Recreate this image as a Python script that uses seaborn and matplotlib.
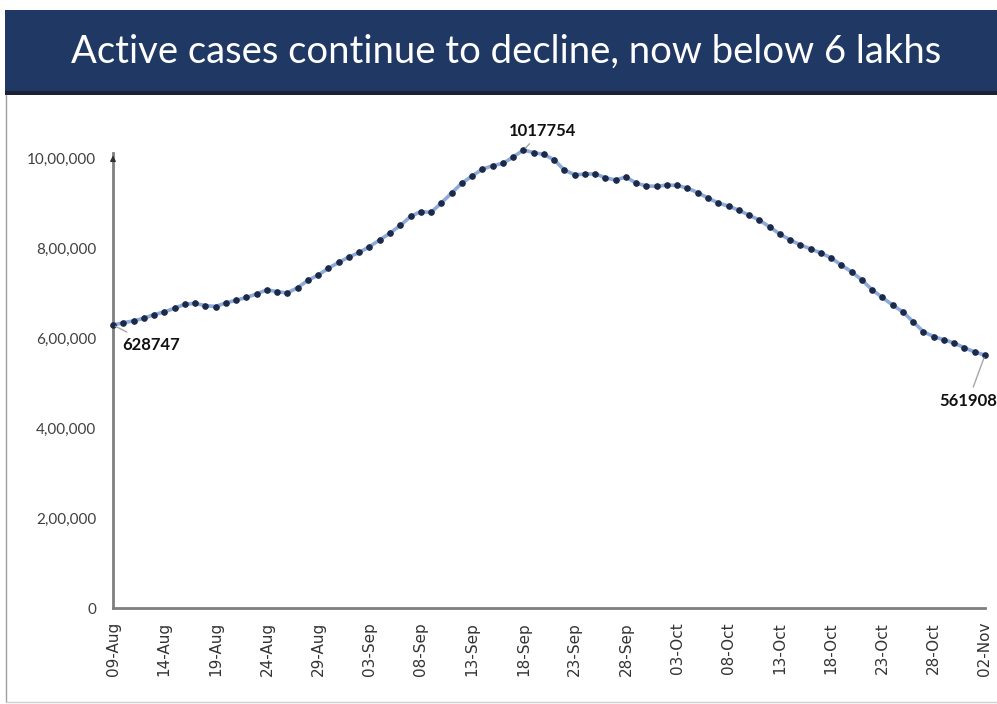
import pandas as pd
import matplotlib
matplotlib.use("Agg")
import matplotlib.pyplot as plt
import matplotlib.dates as mdates
from matplotlib.patches import Rectangle
from matplotlib.lines import Line2D
import seaborn as sns

# data: active cases by report date, 09-Aug to 02-Nov
start_date = "2020-08-09"
active_aug = [628747, 634000, 638000, 644000, 652000, 658000, 666000, 675000,
              677000, 672000, 670000, 678000, 684000, 690000, 698000, 707000,
              703000, 700000, 712000, 728000, 740000, 755000, 768000]
active_sep = [780000, 790000, 803000, 818000, 833000, 850000, 870000, 881000,
              879000, 900000, 922000, 944000, 960000, 975000, 983000, 988000,
              1002000, 1017754, 1012000, 1008000, 996000, 973000, 963000, 964000,
              965000, 956000, 951000, 958000, 944000, 938000]
active_oct = [937000, 940000, 939000, 933000, 923000, 911000, 900000, 893000,
              884000, 873000, 862000, 847000, 831000, 818000, 807000, 798000,
              789000, 778000, 762000, 747000, 729000, 707000, 690000, 673000,
              658000, 636000, 614000, 603000, 596000, 589000, 578000]
active_nov = [569000, 561908]

title = "Active cases continue to decline, now below 6 lakhs"
y_ticks = [0, 200000, 400000, 600000, 800000, 1000000]

active = active_aug + active_sep + active_oct + active_nov
df = pd.DataFrame({
    "date": pd.date_range(start_date, periods=len(active), freq="D"),
    "active": active,
})


def indian_format(v, pos=None):
    # 1000000 -> 10,00,000
    s = str(int(round(v)))
    if len(s) <= 3:
        return s
    head, tail = s[:-3], s[-3:]
    parts = []
    while len(head) > 2:
        parts.insert(0, head[-2:])
        head = head[:-2]
    if head:
        parts.insert(0, head)
    return ",".join(parts) + "," + tail


sns.set_style("white")
plt.rcParams["font.family"] = ["Lato", "DejaVu Sans"]

fig = plt.figure(figsize=(9.97, 7.04), dpi=100)
W, H = 997, 704

# title banner
fig.patches.append(Rectangle((5 / W, 1 - 95 / H), 1, 5 / H, transform=fig.transFigure,
                             facecolor="#1b2236", edgecolor="none", zorder=0))
fig.patches.append(Rectangle((5 / W, 1 - 91 / H), 1, 81 / H, transform=fig.transFigure,
                             facecolor="#203864", edgecolor="none", zorder=1))
fig.text(506 / W, 1 - 52 / H, title, color="white", fontsize=27.5,
         ha="center", va="center", family=["Lato", "DejaVu Sans"])

# slide frame
fig.lines.append(Line2D([6 / W, 6 / W], [2 / H, 1 - 95 / H], transform=fig.transFigure,
                        color="#a0a0a0", lw=1))
fig.lines.append(Line2D([6 / W, 1], [2 / H, 2 / H], transform=fig.transFigure,
                        color="#d0d0d0", lw=1))

ymax = 1030000
ax_bottom = (H - 608) / H
ax_height = ymax / 1e6 * 450 / H
ax = fig.add_axes([113 / W, ax_bottom, (985 - 113) / W, ax_height])

sns.lineplot(data=df, x="date", y="active", ax=ax, color="#8eaadb", linewidth=2.6,
             marker="o", markersize=4, markerfacecolor="#1c2a4a",
             markeredgecolor="#1c2a4a", clip_on=False, zorder=3)

ax.set_xlim(df["date"].iloc[0], df["date"].iloc[-1])
ax.set_ylim(0, ymax)
ax.set_xlabel("")
ax.set_ylabel("")

ax.set_xticks(df["date"].iloc[::5])
ax.xaxis.set_major_formatter(mdates.DateFormatter("%d-%b"))
ax.tick_params(axis="x", rotation=90, labelsize=11, labelcolor="#333333", length=5,
               width=1.2, direction="out", pad=5, color="#7f7f7f",
               labelfontfamily="DejaVu Sans")

ax.set_yticks(y_ticks)
ax.yaxis.set_major_formatter(plt.FuncFormatter(indian_format))
ax.tick_params(axis="y", labelsize=11, labelcolor="#404040", length=0, pad=12)

for side in ["top", "right"]:
    ax.spines[side].set_visible(False)
ax.spines["bottom"].set_color("#7f7f7f")
ax.spines["bottom"].set_linewidth(2)
ax.spines["left"].set_color("#7f7f7f")
ax.spines["left"].set_linewidth(2)
ax.spines["left"].set_bounds(0, 1010000)
# arrow head on y axis
ax.annotate("", xy=(0, 1012000), xytext=(0, 990000),
            xycoords=("axes fraction", "data"), textcoords=("axes fraction", "data"),
            arrowprops=dict(arrowstyle="-|>", color="#303030", lw=1, mutation_scale=8))

# value labels
lab_kw = dict(fontsize=12, fontweight="bold", color="#111111",
              arrowprops=dict(arrowstyle="-", color="#a6a6a6", lw=1))
first = df.iloc[0]
peak = df.loc[df["active"].idxmax()]
last = df.iloc[-1]
ax.annotate(str(first["active"]), xy=(first["date"], first["active"]),
            xytext=(7, -14), textcoords="offset points", ha="left", va="center",
            annotation_clip=False, **lab_kw)
ax.annotate(str(peak["active"]), xy=(peak["date"], peak["active"]),
            xytext=(14, 14), textcoords="offset points", ha="center", va="center",
            annotation_clip=False, **lab_kw)
ax.annotate(str(last["active"]), xy=(last["date"], last["active"]),
            xytext=(-33, -33), textcoords="offset points", ha="left", va="center",
            annotation_clip=False, **lab_kw)

fig.savefig("out.png", dpi=100)
